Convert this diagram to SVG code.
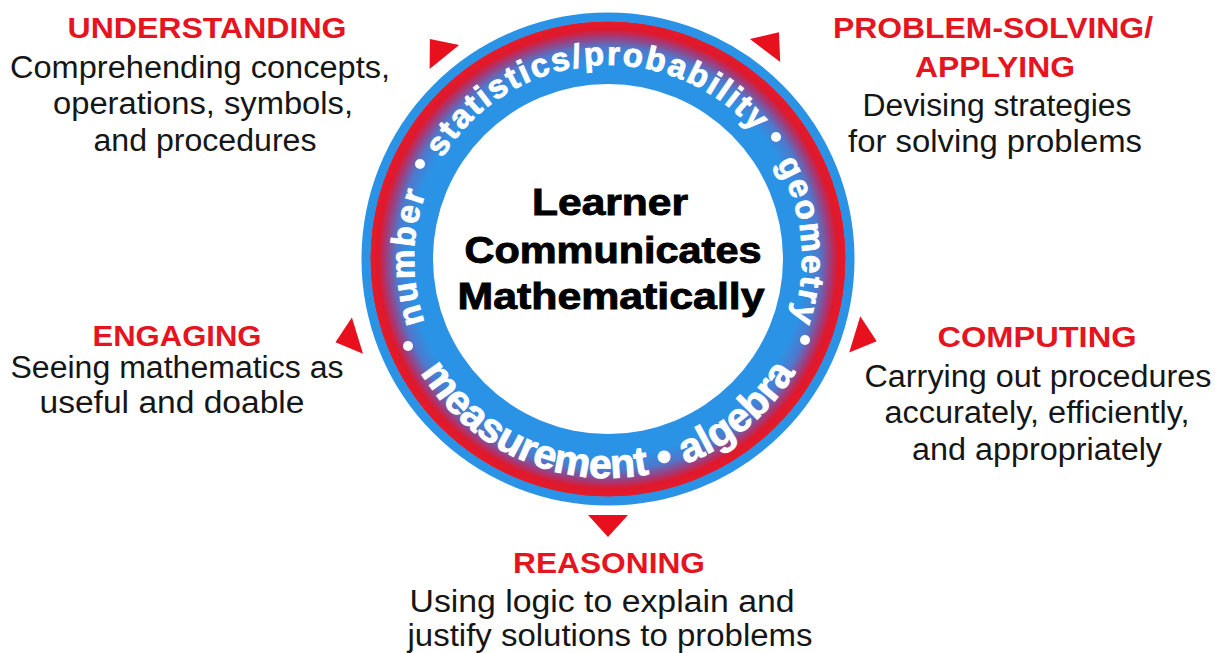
<svg xmlns="http://www.w3.org/2000/svg" width="1215" height="653" viewBox="0 0 1215 653">
<style>
.hd{font-family:"Liberation Sans",Arial,sans-serif;font-weight:700;font-size:29px;fill:#e5141f;text-anchor:middle}
.tx{font-family:"Liberation Sans",Arial,sans-serif;font-size:31px;fill:#161616;text-anchor:middle}
.ctr{font-family:"Liberation Sans",Arial,sans-serif;font-weight:700;font-size:37px;fill:#000;text-anchor:middle;stroke:#000;stroke-width:0.9}
.rt{font-family:"Liberation Sans",Arial,sans-serif;font-weight:700;fill:#fff;stroke:#fff;stroke-width:0.9}
.top{font-size:33px;letter-spacing:2.1px}
.arr{fill:#e8101c}
.dot{fill:#fff}
</style>
<defs>
<radialGradient id="band" cx="608" cy="259" r="238" gradientUnits="userSpaceOnUse">
<stop offset="0" stop-color="#2b93e6"/>
<stop offset="0.83" stop-color="#2b93e6"/>
<stop offset="0.89" stop-color="#4f78cc"/>
<stop offset="0.935" stop-color="#a33a78"/>
<stop offset="0.965" stop-color="#e0182c"/>
<stop offset="1" stop-color="#e31b2a"/>
</radialGradient>
<path id="topArc" d="M608,453 A194,194 0 1,1 608,65 A194,194 0 1,1 608,453"/>
<path id="botArc" d="M389,259 A219,219 0 0,0 827,259"/>
</defs>
<rect width="1215" height="653" fill="#fff"/>

<g id="ring">
<circle cx="608" cy="259" r="238" fill="url(#band)"/>
<circle cx="608" cy="259" r="242" fill="none" stroke="#2b93e6" stroke-width="9"/>
<circle cx="608" cy="259" r="175" fill="#fff"/>
<text class="rt top"><textPath href="#topArc" startOffset="307" text-anchor="middle">number</textPath></text>
<text class="rt top"><textPath href="#topArc" startOffset="594" text-anchor="middle">statistics/probability</textPath></text>
<text class="rt top"><textPath href="#topArc" startOffset="896" text-anchor="middle">geometry</textPath></text>
<text class="rt" font-size="41"><textPath href="#botArc" startOffset="50%" text-anchor="middle">measurement • algebra</textPath></text>
<circle class="dot" cx="420" cy="164" r="5"/>
<circle class="dot" cx="776" cy="137" r="5"/>
<circle class="dot" cx="408" cy="346" r="5"/>
<circle class="dot" cx="805" cy="340" r="5"/>
</g>

<g id="center">
<text class="ctr" x="610" y="215" textLength="156" lengthAdjust="spacingAndGlyphs">Learner</text>
<text class="ctr" x="613" y="263" textLength="297" lengthAdjust="spacingAndGlyphs">Communicates</text>
<text class="ctr" x="611" y="309" textLength="307" lengthAdjust="spacingAndGlyphs">Mathematically</text>
</g>

<g id="understanding">
<text class="hd" x="207" y="38" textLength="279" lengthAdjust="spacingAndGlyphs">UNDERSTANDING</text>
<text class="tx" x="200" y="78" textLength="380" lengthAdjust="spacingAndGlyphs">Comprehending concepts,</text>
<text class="tx" x="203" y="114" textLength="300" lengthAdjust="spacingAndGlyphs">operations, symbols,</text>
<text class="tx" x="205" y="151" textLength="223" lengthAdjust="spacingAndGlyphs">and procedures</text>
</g>

<g id="problem-solving">
<text class="hd" x="993" y="38" textLength="320" lengthAdjust="spacingAndGlyphs">PROBLEM-SOLVING/</text>
<text class="hd" x="995" y="77" textLength="160" lengthAdjust="spacingAndGlyphs">APPLYING</text>
<text class="tx" x="997" y="116" textLength="269" lengthAdjust="spacingAndGlyphs">Devising strategies</text>
<text class="tx" x="995" y="152" textLength="294" lengthAdjust="spacingAndGlyphs">for solving problems</text>
</g>

<g id="engaging">
<text class="hd" x="177" y="346" textLength="169" lengthAdjust="spacingAndGlyphs">ENGAGING</text>
<text class="tx" x="177" y="378" textLength="333" lengthAdjust="spacingAndGlyphs">Seeing mathematics as</text>
<text class="tx" x="172" y="413" textLength="265" lengthAdjust="spacingAndGlyphs">useful and doable</text>
</g>

<g id="computing">
<text class="hd" x="1037" y="347" textLength="199" lengthAdjust="spacingAndGlyphs">COMPUTING</text>
<text class="tx" x="1038" y="387" textLength="347" lengthAdjust="spacingAndGlyphs">Carrying out procedures</text>
<text class="tx" x="1037" y="423" textLength="305" lengthAdjust="spacingAndGlyphs">accurately, efficiently,</text>
<text class="tx" x="1037" y="460" textLength="250" lengthAdjust="spacingAndGlyphs">and appropriately</text>
</g>

<g id="reasoning">
<text class="hd" x="609" y="573" textLength="192" lengthAdjust="spacingAndGlyphs">REASONING</text>
<text class="tx" x="602" y="612" textLength="385" lengthAdjust="spacingAndGlyphs">Using logic to explain and</text>
<text class="tx" x="610" y="646" textLength="405" lengthAdjust="spacingAndGlyphs">justify solutions to problems</text>
</g>

<g id="connectors">
<polygon class="arr" points="-19,0 19,0 0,23" transform="translate(608,259) rotate(-219) translate(0,260)"/>
<polygon class="arr" points="-19,0 19,0 0,23" transform="translate(608,259) rotate(-143) translate(0,261)"/>
<polygon class="arr" points="-19,0 19,0 0,23" transform="translate(608,259) rotate(73) translate(0,262)"/>
<polygon class="arr" points="-19,0 19,0 0,23" transform="translate(608,259) rotate(-73) translate(0,258)"/>
<polygon class="arr" points="-20,0 20,0 0,22" transform="translate(608,259) rotate(0) translate(0,256)"/>
</g>
</svg>
